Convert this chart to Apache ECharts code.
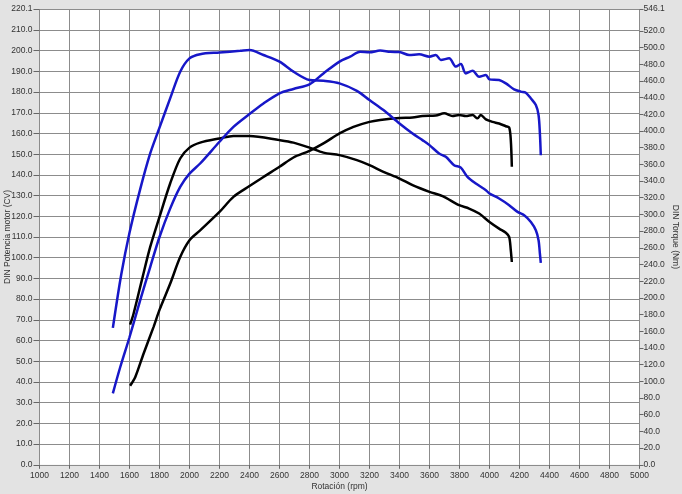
<!DOCTYPE html>
<html>
<head>
<meta charset="utf-8">
<script src="https://cdn.jsdelivr.net/npm/echarts@6/dist/echarts.min.js"></script>
<style>
html,body{margin:0;padding:0;background:#e3e3e3;}
#chart{width:682px;height:494px;}
</style>
</head>
<body>
<div id="chart"></div>
<script>
// Axis ranges / tick labels
const powerTicks = [0,10,20,30,40,50,60,70,80,90,100,110,120,130,140,150,160,170,180,190,200,210,220.1];
const torqueTicks = [0,20,40,60,80,100,120,140,160,180,200,220,240,260,280,300,320,340,360,380,400,420,440,460,480,500,520,546.1];

// Blue run - power (CV)
const bluePowerRpm = [1489,1538,1600,1671,1738,1800,1871,1938,2000,2071,2200,2293,2400,2493,2600,2693,2800,2893,3000,3071,3138,3200,3271,3338,3400,3464,3531,3600,3642,3676,3731,3776,3809,3842,3887,3931,3976,4000,4064,4109,4164,4209,4242,4276,4309,4327,4336,4342];
const bluePowerCV = [34.5,47.1,61.6,79.4,95.5,110.0,123.7,134.2,140.6,145.5,156.0,163.2,169.4,174.5,179.4,181.5,183.7,189.0,194.7,197.1,199.5,199.2,200.0,199.4,199.3,197.9,198.2,197.1,197.9,195.5,196.3,192.3,193.5,189.0,190.3,187.4,188.2,186.1,185.8,184.2,181.3,180.2,179.7,176.9,173.7,168.9,160.0,149.5];

// Blue run - torque (Nm)
const blueTorqueRpm = [1489,1545,1600,1671,1738,1800,1871,1938,2000,2071,2200,2338,2400,2493,2600,2693,2800,2893,3000,3116,3200,3293,3400,3487,3553,3600,3664,3709,3764,3809,3853,3909,3976,4000,4064,4131,4187,4231,4276,4309,4327,4336,4342];
const blueTorqueNm = [164,228,278,330,373,404,439,471,487,492,494,496,497,491,483,471,461,460,457,448,437,425,409,397,389,383,373,369,359,356,345,337,329,325,319,311,303,299,291,281,269,253,242];

// Black run - power (CV)
const blackPowerRpm = [1604,1638,1693,1760,1800,1871,1938,2000,2071,2200,2293,2400,2493,2600,2693,2800,2893,3000,3093,3200,3271,3400,3487,3553,3642,3698,3753,3798,3842,3887,3920,3942,3976,4020,4064,4109,4131,4142,4149];
const blackPowerCV = [38.2,42.3,53.5,66.5,74.8,87.4,100.3,108.4,113.2,122.1,129.4,134.6,139.0,143.9,148.4,151.6,155.2,160.0,163.2,165.6,166.5,167.5,167.7,168.4,168.7,169.7,168.4,168.9,168.4,168.9,167.3,168.9,166.8,165.6,164.8,163.5,162.9,156.8,143.9];

// Black run - torque (Nm)
const blackTorqueRpm = [1604,1627,1682,1738,1800,1871,1938,2000,2071,2200,2293,2400,2600,2693,2800,2893,3000,3116,3200,3293,3400,3487,3600,3687,3798,3864,3931,4000,4064,4109,4131,4142,4149];
const blackTorqueNm = [168,181,221,261,297,337,367,380,386,391,394,394,389,386,380,374,371,365,359,351,343,335,327,322,311,307,301,291,283,278,273,257,243];

const pairs = (xs, ys) => xs.map((x, i) => [x, ys[i]]);
const FONT = 'Liberation Sans, Arial, sans-serif';
const labelStyle = {color: '#333', fontSize: 8.5, fontFamily: FONT};

const chart = echarts.init(document.getElementById('chart'), null, {renderer: 'canvas'});
const lineBase = {type: 'line', showSymbol: false, smooth: 0.3, animation: false, z: 3};

chart.setOption({
  backgroundColor: '#e3e3e3',
  animation: false,
  grid: {left: 39.5, right: 42.5, top: 9, bottom: 29.2, show: true, backgroundColor: '#ffffff', borderWidth: 0, containLabel: false, outerBoundsMode: 'none'},
  xAxis: {
    type: 'value', min: 1000, max: 5000, interval: 200,
    name: 'Rotación (rpm)', nameLocation: 'middle', nameGap: 17, nameMoveOverlap: false,
    nameTextStyle: labelStyle,
    axisLine: {show: false},
    axisTick: {show: true, length: 4, lineStyle: {color: '#666'}},
    axisLabel: Object.assign({margin: 6, formatter: v => String(v)}, labelStyle),
    splitLine: {show: true, lineStyle: {color: '#8c8c8c', width: 1}}
  },
  yAxis: [{
    type: 'value', min: 0, max: 220.1, interval: 10, position: 'left',
    name: 'DIN Potencia motor (CV)', nameLocation: 'middle', nameGap: 27, nameRotate: 90, nameMoveOverlap: false,
    nameTextStyle: labelStyle,
    axisLine: {show: false},
    axisTick: {show: true, length: 6, lineStyle: {color: '#666'}, customValues: powerTicks},
    axisLabel: Object.assign({margin: 7, customValues: powerTicks, formatter: v => v.toFixed(1)}, labelStyle),
    splitLine: {show: true, lineStyle: {color: '#8c8c8c', width: 1}}
  }, {
    type: 'value', min: 0, max: 546.1, position: 'right',
    name: 'DIN Torque (Nm)', nameLocation: 'middle', nameGap: 31, nameRotate: -90, nameMoveOverlap: false,
    nameTextStyle: labelStyle,
    axisLine: {show: false},
    axisTick: {show: true, length: 4, lineStyle: {color: '#666'}, customValues: torqueTicks},
    axisLabel: Object.assign({margin: 4, customValues: torqueTicks, formatter: v => v.toFixed(1)}, labelStyle),
    splitLine: {show: false}
  }],
  series: [
    Object.assign({}, lineBase, {name: 'Potencia 2', yAxisIndex: 0, data: pairs(blackPowerRpm, blackPowerCV), lineStyle: {color: '#000', width: 2.5}}),
    Object.assign({}, lineBase, {name: 'Torque 2', yAxisIndex: 1, data: pairs(blackTorqueRpm, blackTorqueNm), lineStyle: {color: '#000', width: 2.5}}),
    Object.assign({}, lineBase, {name: 'Potencia 1', yAxisIndex: 0, data: pairs(bluePowerRpm, bluePowerCV), lineStyle: {color: '#1717c8', width: 2.5}}),
    Object.assign({}, lineBase, {name: 'Torque 1', yAxisIndex: 1, data: pairs(blueTorqueRpm, blueTorqueNm), lineStyle: {color: '#1717c8', width: 2.5}})
  ]
});
</script>
</body>
</html>
